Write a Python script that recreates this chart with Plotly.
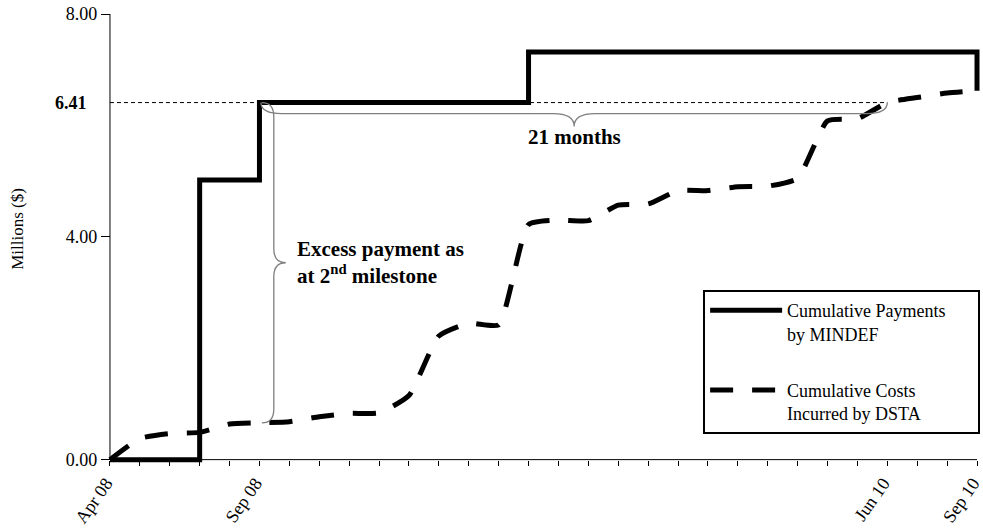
import plotly.graph_objects as go

# ---------------- data ----------------
month_count = 30                      # Apr 08 .. Sep 10, one tick per month
label_months = [0, 5, 26, 29]
label_text = ["Apr 08", "Sep 08", "Jun 10", "Sep 10"]
months = list(range(month_count))

# Cumulative payments by MINDEF (step line): month index -> value ($M)
pay_months = [0, 3, 5, 14, 29, 29]
pay_values = [0.0, 5.02, 6.41, 7.32, 7.32, 6.62]

# Cumulative costs incurred by DSTA (monthly)
cost_values = [0.0, 0.38, 0.47, 0.49, 0.64, 0.66, 0.68, 0.77, 0.83, 0.84,
               1.15, 2.22, 2.45, 2.42, 4.22, 4.30, 4.29, 4.57, 4.59, 4.83,
               4.83, 4.90, 4.91, 5.05, 6.08, 6.12, 6.41, 6.50, 6.58, 6.62]

y_ticks = [0, 4, 8]
y_ticktext = ["0.00", "4.00", "8.00"]
milestone_value = 6.41
milestone_month = 5     # Sep 08
catchup_month = 26      # Jun 10

FONT = "Liberation Serif, Times New Roman, Times, serif"
GREY = "#7f7f7f"
PAD = "&nbsp;" * 6

x_range = [-0.3, 29.1]
y_range = [-0.15, 8.0]

fig = go.Figure()

fig.add_trace(go.Scatter(
    x=pay_months, y=pay_values, mode="lines", line_shape="hv",
    line=dict(color="black", width=5),
    name="Cumulative Payments" + PAD + "<br>by MINDEF", legendgroup="a"))

fig.add_trace(go.Scatter(
    x=months, y=cost_values, mode="lines", line_shape="spline",
    line=dict(color="black", width=5, dash="23px,19px", smoothing=0.5),
    name="Cumulative Costs<br>Incurred by DSTA", legendgroup="b"))

# axis lines
fig.add_shape(type="line", xref="x", yref="y", x0=0, x1=months[-1], y0=0, y1=0,
              line=dict(color="black", width=1), layer="below")
fig.add_shape(type="line", xref="x", yref="y", x0=0, x1=0, y0=0, y1=y_ticks[-1],
              line=dict(color="black", width=1), layer="below")

# 6.41 reference dashed line
fig.add_shape(type="line", xref="x", yref="y", x0=0, x1=catchup_month,
              y0=milestone_value, y1=milestone_value,
              line=dict(color="black", width=1, dash="4px,3px"), layer="below")

# horizontal brace (21 months)
x0, x1, yb = milestone_month + 0.05, catchup_month, milestone_value
h1, h2, rx = 0.2, 0.43, 0.7
xm = (x0 + x1) / 2
hpath = (f"M {x0},{yb} Q {x0},{yb-h1} {x0+rx},{yb-h1} L {xm-rx},{yb-h1} "
         f"Q {xm},{yb-h1} {xm},{yb-h2} Q {xm},{yb-h1} {xm+rx},{yb-h1} "
         f"L {x1-rx},{yb-h1} Q {x1},{yb-h1} {x1},{yb}")
fig.add_shape(type="path", path=hpath, xref="x", yref="y",
              line=dict(color=GREY, width=1.3))

# vertical brace (excess payment)
xb = milestone_month + 0.08
ytop, ybot = milestone_value, cost_values[milestone_month]
w1, w2, ry = 0.4, 0.8, 0.25
ym = (ytop + ybot) / 2
vpath = (f"M {xb},{ytop} Q {xb+w1},{ytop} {xb+w1},{ytop-ry} L {xb+w1},{ym+ry} "
         f"Q {xb+w1},{ym} {xb+w2},{ym} Q {xb+w1},{ym} {xb+w1},{ym-ry} "
         f"L {xb+w1},{ybot+ry} Q {xb+w1},{ybot} {xb},{ybot}")
fig.add_shape(type="path", path=vpath, xref="x", yref="y",
              line=dict(color=GREY, width=1.3))

# annotations
fig.add_annotation(x=xb + w2 + 0.3, y=ym, xref="x", yref="y",
                   text="<b>Excess payment as<br>at 2<sup>nd</sup> milestone</b>",
                   showarrow=False, xanchor="left", yanchor="middle", align="left",
                   font=dict(family=FONT, size=21, color="black"))
fig.add_annotation(x=xm, y=yb - h2 + 0.06, xref="x", yref="y",
                   text="<b>21 months</b>", showarrow=False,
                   xanchor="center", yanchor="top",
                   font=dict(family=FONT, size=21, color="black"))
fig.add_annotation(x=0, y=milestone_value, xref="x", yref="y",
                   text="<b>6.41</b>", showarrow=False, xanchor="right",
                   yanchor="middle", xshift=-21,
                   font=dict(family=FONT, size=18, color="black"))
fig.add_annotation(x=-0.0944, y=0.527, xref="paper", yref="paper",
                   text="Millions ($)", textangle=-90, showarrow=False,
                   xanchor="center", yanchor="middle",
                   font=dict(family=FONT, size=17, color="black"))

fig.update_layout(
    width=983, height=530,
    margin=dict(l=101, r=3, t=14, b=62, autoexpand=False),
    paper_bgcolor="white", plot_bgcolor="white",
    font=dict(family=FONT, size=18, color="black"),
    showlegend=True,
    legend=dict(x=0.685, y=0.392, xanchor="left", yanchor="top",
                bordercolor="black", borderwidth=2, bgcolor="white",
                font=dict(family=FONT, size=18, color="black"),
                itemwidth=72, tracegroupgap=30, valign="top",
                traceorder="grouped"),
)

fig.update_xaxes(range=x_range, tickmode="array", tickvals=label_months, ticktext=label_text,
                 tickangle=-55, ticks="outside", ticklen=5, tickwidth=1, tickcolor="black",
                 minor=dict(tickmode="linear", tick0=0, dtick=1, ticks="outside",
                            ticklen=5, tickwidth=1, tickcolor="black", showgrid=False),
                 ticklabeloverflow="allow", automargin=False, ticklabelshift=-4,
                 showline=False, showgrid=False, zeroline=False,
                 anchor="free", position=(0 - y_range[0]) / (y_range[1] - y_range[0]),
                 tickfont=dict(family=FONT, size=18, color="black"))
fig.update_yaxes(range=y_range, tickmode="array", tickvals=y_ticks, ticktext=y_ticktext,
                 ticks="outside", ticklen=9, tickwidth=1, tickcolor="black",
                 ticklabeloverflow="allow", automargin=False,
                 showline=False, showgrid=False, zeroline=False,
                 anchor="free", position=(0 - x_range[0]) / (x_range[1] - x_range[0]),
                 tickfont=dict(family=FONT, size=18, color="black"))

# remove the browser's default 8px page margin so the figure fills the window
fig.write_html("out.html",
               config={"displayModeBar": False},
               post_script="document.body.style.margin='0';"
                           "document.body.style.overflow='hidden';")
